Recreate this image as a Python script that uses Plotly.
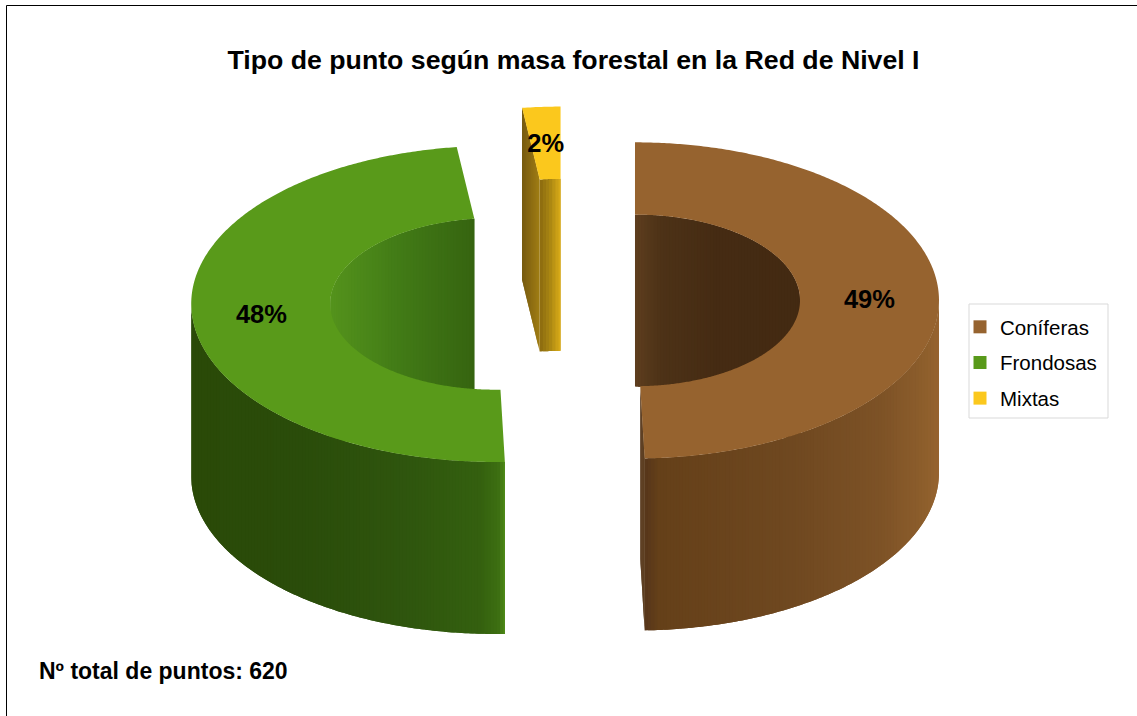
import math
import plotly.graph_objects as go

# Chart content
TITLE = "Tipo de punto según masa forestal en la Red de Nivel I"
FOOTNOTE = "Nº total de puntos: 620"
categories = ["Coníferas", "Frondosas", "Mixtas"]
shares = [49, 48, 2]

# Colours: top face, plus (position, colour) stops across each wall
top_colors = ["#96632f", "#599a1a", "#fbc81d"]
outer_stops = [
    [(0.0, "#56361a"), (0.05, "#654019"), (0.5, "#6f4820"), (0.8, "#7d5226"),
     (0.95, "#8d5e2c"), (1.0, "#96632f")],
    [(0.0, "#2a4a08"), (0.35, "#2a4c0a"), (0.7, "#2f560e"), (0.92, "#34600f"),
     (0.98, "#3d6f12"), (1.0, "#4f8c17")],
    [(0.0, "#7a5c10"), (1.0, "#7a5c10")],
]
inner_stops = [
    [(0.0, "#5e3e1f"), (0.15, "#4d3217"), (0.5, "#452b13"), (1.0, "#432a12")],
    [(0.0, "#54931c"), (0.5, "#417a16"), (1.0, "#366410")],
    [(0.0, "#8a6a10"), (0.5, "#a98612"), (1.0, "#dcae18")],
]
face_colors = [("#543413", "#56361a"), (None, None), ("#775a10", "#a07d14")]

# Projection of the exploded ring
CX, CY = 565, 301
R_OUT, R_IN = 304, 165
SQUASH = 0.52
DEPTH = 172
EXPLODE = 70
STRIP_PX = 3.0
LABEL_DROP = 3


def hex_mix(stops, t):
    for (t0, c0), (t1, c1) in zip(stops, stops[1:]):
        if t <= t1:
            f = 0 if t1 == t0 else (t - t0) / (t1 - t0)
            a = [int(c0[i:i + 2], 16) for i in (1, 3, 5)]
            b = [int(c1[i:i + 2], 16) for i in (1, 3, 5)]
            return "#%02x%02x%02x" % tuple(round(p + (q - p) * f) for p, q in zip(a, b))
    return stops[-1][1]


def pt(center, r, deg):
    a = math.radians(deg)
    return center[0] + r * math.sin(a), center[1] - r * SQUASH * math.cos(a)


def arc(center, r, a0, a1):
    n = max(2, int(abs(a1 - a0) / 0.5) + 1)
    return [pt(center, r, a0 + (a1 - a0) * i / (n - 1)) for i in range(n)]


def poly(points, color):
    xs = [p[0] for p in points] + [points[0][0]]
    ys = [p[1] for p in points] + [points[0][1]]
    return go.Scatter(
        x=xs, y=ys, mode="none", fill="toself", fillcolor=color,
        hoverinfo="skip", showlegend=False,
    )


def strip_angles(center, r, a0, a1):
    """Angles spaced evenly in screen x, so the shading bands stay narrow."""
    angles = [a0]
    n = int(abs(a1 - a0) / 0.1) + 1
    for i in range(1, n + 1):
        a = a0 + (a1 - a0) * i / n
        moved = abs(pt(center, r, a)[0] - pt(center, r, angles[-1])[0])
        if moved >= STRIP_PX or abs(a - angles[-1]) >= 3 or i == n:
            angles.append(a)
    return angles


def wall(center, r, a0, a1, stops, x_left, x_right):
    """Vertical wall shaded left to right; each band runs under the next one."""
    out = []
    angles = strip_angles(center, r, a0, a1)
    for i, s0 in enumerate(angles[:-1]):
        s1 = angles[i + 1]
        s2 = angles[min(i + 2, len(angles) - 1)]
        p0, p1 = pt(center, r, s0), pt(center, r, s1)
        t = ((p0[0] + p1[0]) / 2 - x_left) / (x_right - x_left)
        color = hex_mix(stops, max(0, min(1, t)))
        upper = arc(center, r, s0, s2)
        lower = [(x, y + DEPTH) for x, y in reversed(upper)]
        out.append(poly(upper + lower, color))
    return out


def radial_face(center, deg, colors):
    """Cut end of a ring segment, from the hole out to the rim."""
    out = []
    n = 14
    for i in range(n):
        r0 = R_IN + (R_OUT - R_IN) * i / n
        r1 = R_IN + (R_OUT - R_IN) * min(i + 2, n) / n
        p0, p1 = pt(center, r0, deg), pt(center, r1, deg)
        color = hex_mix([(0, colors[1]), (1, colors[0])], (i + 0.5) / n)
        out.append(poly([p0, p1, (p1[0], p1[1] + DEPTH), (p0[0], p0[1] + DEPTH)], color))
    return out


total = sum(shares)
spans = []
start = 0.0
for value in shares:
    spans.append((start, start + 360.0 * value / total))
    start = spans[-1][1]

fig = go.Figure()
label_x, label_y, label_text = [], [], []

# Drawn back to front: Mixtas, Frondosas, Coníferas
for idx in (2, 1, 0):
    a0, a1 = spans[idx]
    mid = (a0 + a1) / 2
    center = (CX + EXPLODE * math.sin(math.radians(mid)),
              CY - EXPLODE * SQUASH * math.cos(math.radians(mid)))

    # Hole wall, only the far side faces the viewer
    b0, b1 = a0, a1
    if idx == 0:
        b1 = 90
    elif idx == 1:
        b0 = 270
    xs = [pt(center, R_IN, b)[0] for b in (b0, b1)]
    for tr in wall(center, R_IN, b0, b1, inner_stops[idx], min(xs), max(xs)):
        fig.add_trace(tr)

    # Visible cut faces
    if idx == 0:
        for tr in radial_face(center, a1, face_colors[0]):
            fig.add_trace(tr)
    if idx == 2:
        for tr in radial_face(center, a0, face_colors[2]):
            fig.add_trace(tr)

    # Rim wall on the near side
    if idx == 0:
        xs = [pt(center, R_OUT, a)[0] for a in (a1, 90)]
        for tr in wall(center, R_OUT, a1, 90, outer_stops[0], min(xs), max(xs)):
            fig.add_trace(tr)
    elif idx == 1:
        xs = [pt(center, R_OUT, a)[0] for a in (270, a0)]
        for tr in wall(center, R_OUT, 270, a0, outer_stops[1], min(xs), max(xs)):
            fig.add_trace(tr)

    # Top face
    fig.add_trace(poly(arc(center, R_OUT, a0, a1) + arc(center, R_IN, a1, a0), top_colors[idx]))

    lx, ly = pt(center, (R_OUT + R_IN) / 2, mid)
    label_x.append(lx)
    label_y.append(ly + LABEL_DROP)
    label_text.append(f"{shares[idx]}%")

fig.add_trace(go.Scatter(
    x=label_x, y=label_y, text=label_text, mode="text", textposition="middle center",
    textfont=dict(family="Liberation Sans", size=25.5, color="#000000", weight="bold"),
    hoverinfo="skip", showlegend=False,
))

# Legend entries
for name, color in zip(categories, top_colors):
    fig.add_trace(go.Scatter(
        x=[None], y=[None], mode="markers", name=name, legendgroup=name,
        marker=dict(symbol="square", size=13, color=color),
    ))

fig.update_layout(
    width=1137, height=716,
    margin=dict(l=0, r=0, t=0, b=0),
    paper_bgcolor="#ffffff", plot_bgcolor="#ffffff",
    xaxis=dict(range=[0, 1137], visible=False, fixedrange=True),
    yaxis=dict(range=[716, 0], visible=False, fixedrange=True),
    title=dict(
        text=TITLE, x=573.5 / 1137, xanchor="center", y=1 - 60 / 716, yanchor="middle",
        font=dict(family="Liberation Sans", size=26.7, color="#000000", weight="bold"),
    ),
    legend=dict(
        x=960 / 1137, xanchor="left", y=1 - 307 / 716, yanchor="top",
        bgcolor="rgba(0,0,0,0)", borderwidth=0, tracegroupgap=6,
        font=dict(family="Liberation Sans", size=20.5, color="#000000"),
    ),
    shapes=[
        dict(type="line", xref="x", yref="y", x0=6.5, y0=5.5, x1=1137, y1=5.5,
             line=dict(color="#000000", width=1)),
        dict(type="line", xref="x", yref="y", x0=6.5, y0=5.5, x1=6.5, y1=716,
             line=dict(color="#000000", width=1)),
        dict(type="rect", xref="x", yref="y", x0=969, y0=304, x1=1108, y1=418,
             line=dict(color="#d9d9d9", width=1), fillcolor="#ffffff", layer="below"),
    ],
    annotations=[dict(
        text=FOOTNOTE, xref="x", yref="y", x=37, y=671, xanchor="left", yanchor="middle",
        showarrow=False,
        font=dict(family="Liberation Sans", size=23, color="#000000", weight="bold"),
    )],
)

fig.write_html("out.html")
